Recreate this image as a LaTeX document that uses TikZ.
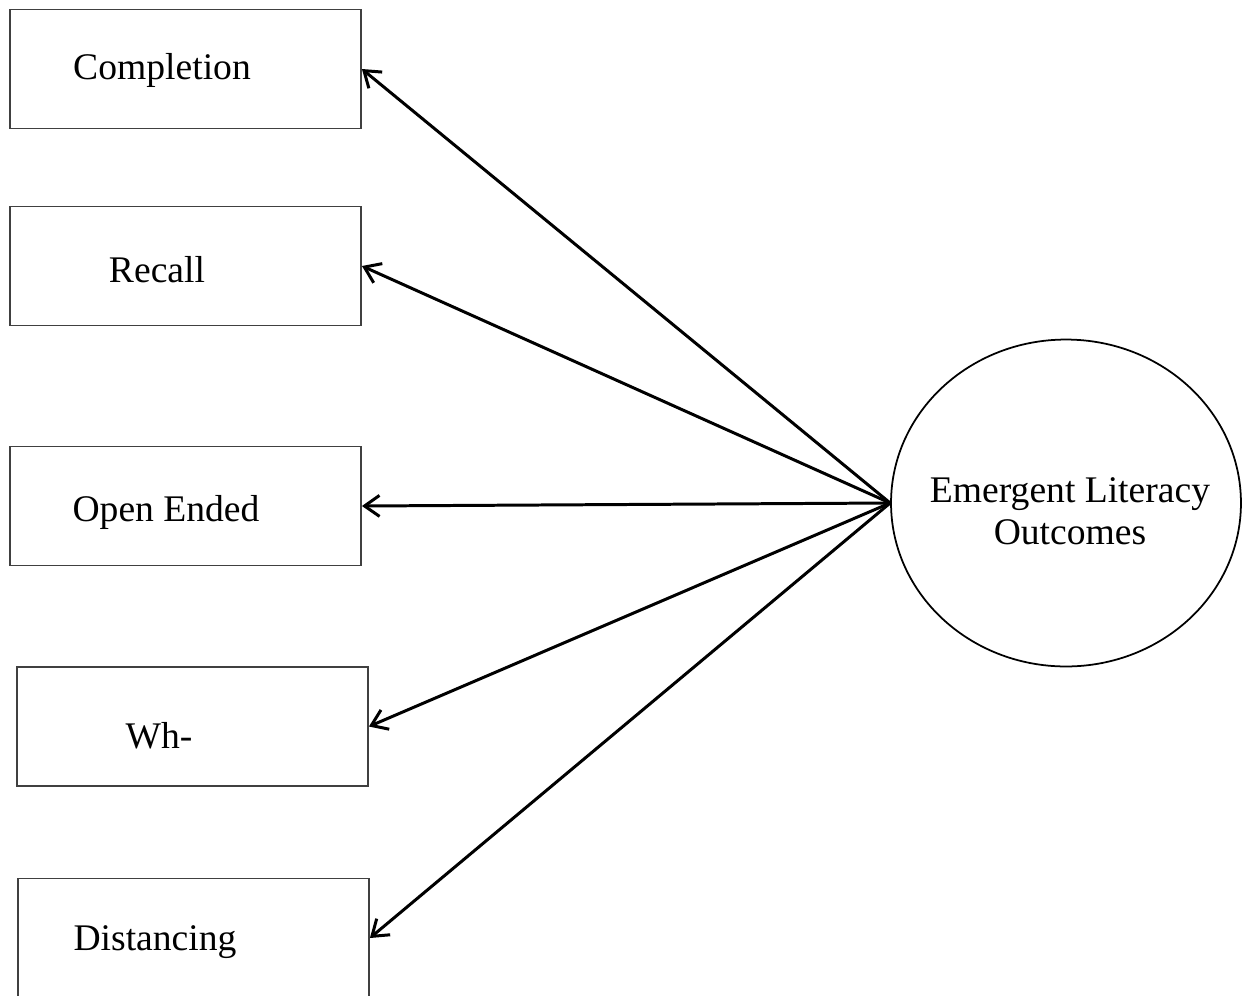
\documentclass[tikz,border=0pt]{standalone}
\usepackage{fontspec}
\setmainfont{Liberation Serif}
\usetikzlibrary{shapes.geometric,arrows.meta}
\tikzset{
	qbox/.style={draw=black!75, line width=1.1pt, fill=white, minimum width=7.02cm, minimum height=2.38cm},
	qtext/.style={font=\fontsize{21.4}{25}\selectfont},
	link/.style={line width=1.7pt, -{Straight Barb[length=3mm,width=4.2mm]}}
}
\begin{document}
		\begin{tikzpicture}[x=0.02cm, y=-0.02cm]
			\useasboundingbox (0,0) rectangle (1252,995);
			\node[qbox] (completion) at (185.5,69){};
			\node[qbox] (recall) at (185.5,266){};
			\node[qbox] (openended) at (185.5,506){};
			\node[qbox] (wh) at (192.5,726.5){};
			\node[qbox] (distancing) at (193.5,938){};
			\node[qtext] (t1) at (162,70) {Completion};
			\node[qtext] (t2) at (157,270) {Recall};
			\node[qtext] (t3) at (166,512) {Open Ended};
			\node[qtext] (t4) at (159,736) {Wh-};
			\node[qtext] (t5) at (155,942) {Distancing};
			\node[ellipse, draw, line width=1pt, minimum width=7cm, minimum height=6.54cm] (elo) at (1066,503){};
			\node[qtext, align=center] (elotext) at (1070,511) {Emergent Literacy\\[-1pt]Outcomes};
			\foreach \q in {completion,recall,openended,wh,distancing}
				\draw[link] (elo.west)--(\q.east);
		\end{tikzpicture}
\end{document}
